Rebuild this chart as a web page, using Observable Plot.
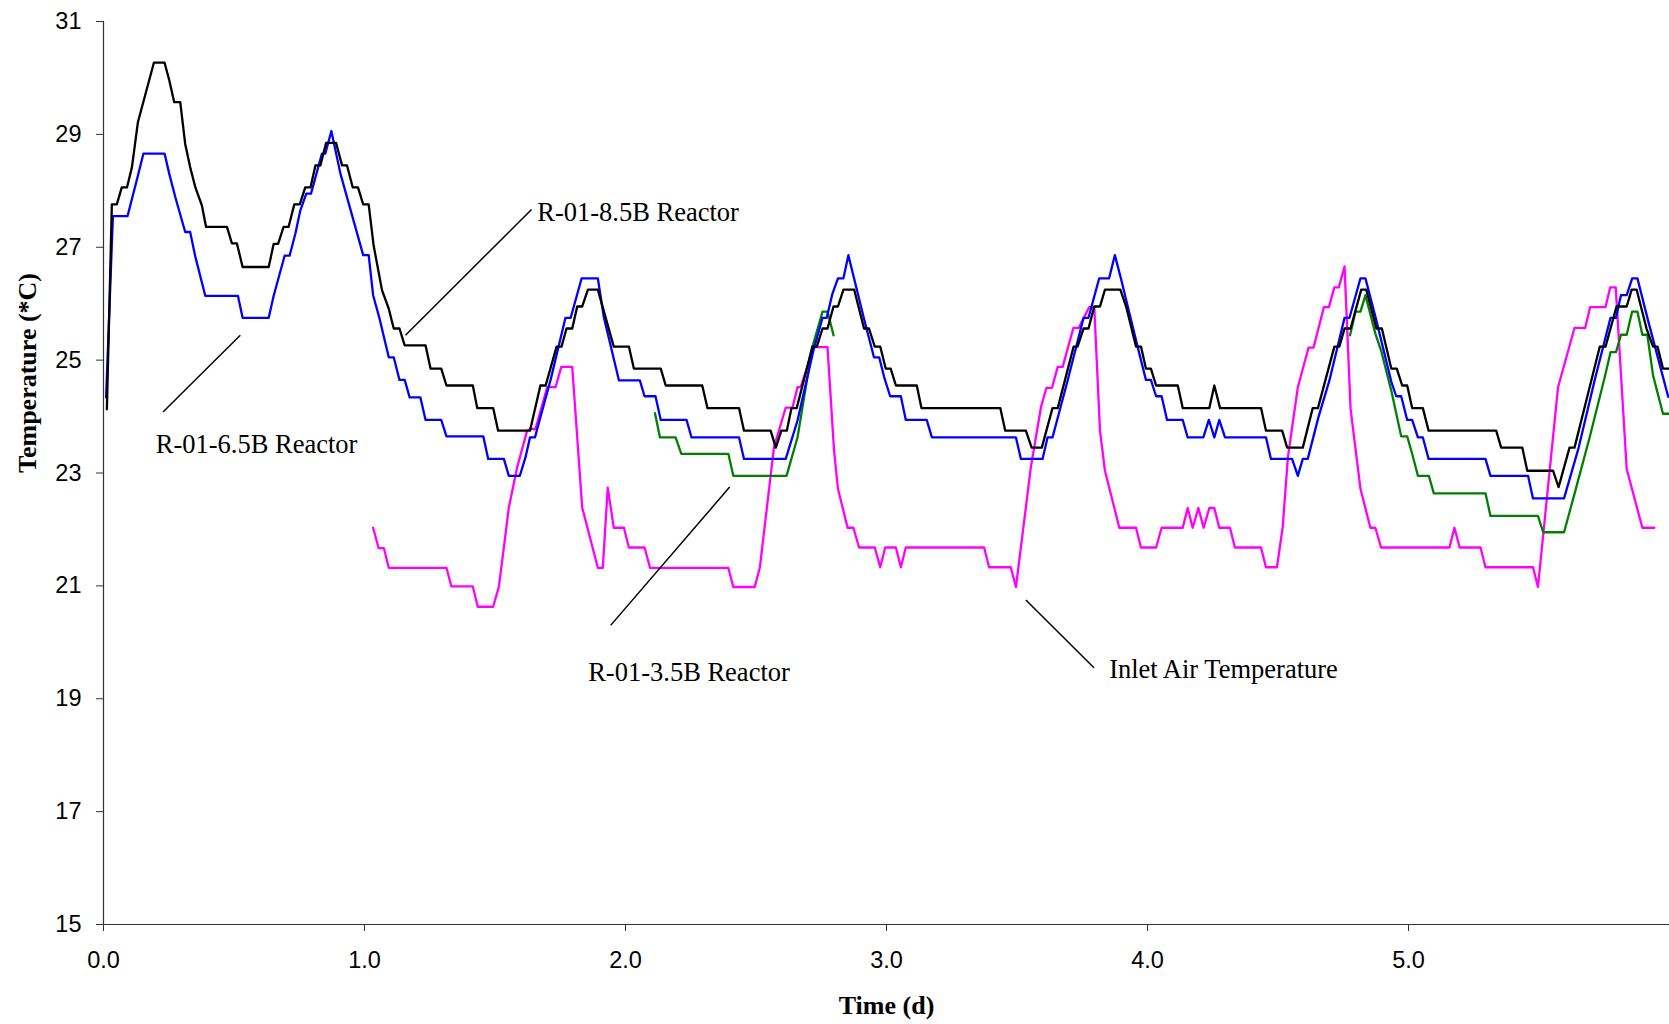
<!DOCTYPE html>
<html>
<head>
<meta charset="utf-8">
<script src="https://cdn.jsdelivr.net/npm/d3@7"></script>
<script src="https://cdn.jsdelivr.net/npm/@observablehq/plot@0.6"></script>
<style>
  html, body { margin: 0; padding: 0; background: #fff; }
  #chart svg { display: block; }
</style>
</head>
<body>
<div id="chart"></div>
<script>
// ---- Data: [time (d), temperature (°C)] ----
const r85 = [ // R-01-8.5B Reactor (black)
  [0.013,24.13],[0.032,27.76],[0.051,27.76],[0.070,28.06],[0.090,28.06],[0.109,28.42],[0.132,29.22],[0.193,30.27],[0.234,30.27],
  [0.252,29.96],[0.271,29.57],[0.294,29.57],[0.313,28.83],[0.332,28.42],[0.352,28.06],[0.377,27.74],[0.393,27.36],[0.473,27.36],
  [0.492,27.07],[0.511,27.07],[0.533,26.65],[0.633,26.65],[0.652,27.06],[0.669,27.06],[0.690,27.36],[0.709,27.36],[0.731,27.76],
  [0.752,27.76],[0.773,28.06],[0.793,28.06],[0.812,28.45],[0.831,28.45],[0.853,28.85],[0.891,28.85],[0.914,28.45],[0.933,28.45],
  [0.955,28.06],[0.975,28.06],[0.995,27.76],[1.016,27.76],[1.035,27.03],[1.067,26.24],[1.093,25.91],[1.112,25.56],[1.134,25.56],
  [1.154,25.26],[1.234,25.26],[1.253,24.85],[1.294,24.85],[1.314,24.55],[1.415,24.55],[1.432,24.15],[1.493,24.15],[1.512,23.75],
  [1.634,23.75],[1.674,24.55],[1.694,24.55],[1.736,25.24],[1.755,25.24],[1.774,25.56],[1.796,25.56],[1.815,25.95],[1.834,25.95],
  [1.856,26.25],[1.894,26.25],[1.955,25.24],[2.013,25.24],[2.032,24.85],[2.135,24.85],[2.154,24.55],[2.294,24.55],[2.314,24.15],
  [2.435,24.15],[2.454,23.75],[2.556,23.75],[2.576,23.45],[2.597,23.75],[2.618,23.75],[2.636,24.15],[2.656,24.15],[2.716,25.24],
  [2.733,25.24],[2.755,25.56],[2.774,25.56],[2.797,25.95],[2.814,25.95],[2.835,26.25],[2.876,26.25],[2.914,25.56],[2.933,25.56],
  [2.955,25.24],[2.976,25.24],[2.997,24.85],[3.016,24.85],[3.036,24.55],[3.116,24.55],[3.134,24.15],[3.436,24.15],[3.455,23.75],
  [3.534,23.75],[3.556,23.45],[3.595,23.45],[3.636,24.15],[3.656,24.15],[3.717,25.24],[3.732,25.24],[3.755,25.56],[3.774,25.56],
  [3.796,25.95],[3.818,25.95],[3.837,26.25],[3.896,26.25],[3.918,25.95],[3.956,25.24],[3.975,25.24],[3.994,24.85],[4.013,24.85],
  [4.033,24.55],[4.116,24.55],[4.135,24.15],[4.237,24.15],[4.256,24.55],[4.278,24.15],[4.435,24.15],[4.454,23.75],[4.516,23.75],
  [4.535,23.45],[4.595,23.45],[4.633,24.15],[4.653,24.15],[4.716,25.24],[4.735,25.24],[4.755,25.56],[4.778,25.56],[4.819,26.25],
  [4.838,26.25],[4.877,25.56],[4.898,25.56],[4.934,24.85],[4.955,24.85],[4.976,24.55],[4.995,24.55],[5.014,24.15],[5.055,24.15],
  [5.077,23.75],[5.336,23.75],[5.355,23.45],[5.436,23.45],[5.455,23.04],[5.554,23.04],[5.575,22.75],[5.617,23.45],[5.636,23.45],
  [5.694,24.52],[5.733,25.24],[5.755,25.24],[5.797,25.95],[5.836,25.95],[5.855,26.25],[5.874,26.25],[5.912,25.56],[5.937,25.24],
  [5.954,25.24],[5.975,24.85],[6.000,24.85]
];
const r65 = [ // R-01-6.5B Reactor (blue)
  [0.010,24.34],[0.036,27.55],[0.092,27.55],[0.132,28.27],[0.153,28.66],[0.234,28.66],[0.252,28.30],[0.275,27.89],[0.313,27.27],
  [0.332,27.27],[0.352,26.83],[0.390,26.14],[0.515,26.14],[0.533,25.75],[0.633,25.75],[0.652,26.14],[0.694,26.85],[0.713,26.85],
  [0.735,27.24],[0.754,27.65],[0.777,27.95],[0.795,27.95],[0.837,28.66],[0.850,28.66],[0.873,29.06],[0.908,28.30],[0.995,26.86],
  [1.016,26.86],[1.033,26.15],[1.058,25.73],[1.093,25.05],[1.112,25.05],[1.134,24.65],[1.154,24.65],[1.173,24.34],[1.214,24.34],
  [1.234,23.94],[1.294,23.94],[1.314,23.65],[1.455,23.65],[1.474,23.25],[1.534,23.25],[1.553,22.95],[1.595,22.95],[1.617,23.28],
  [1.634,23.63],[1.653,23.63],[1.674,23.99],[1.713,24.65],[1.770,25.75],[1.790,25.75],[1.832,26.45],[1.894,26.45],[1.917,25.76],
  [1.975,24.64],[2.055,24.64],[2.073,24.36],[2.115,24.36],[2.135,23.94],[2.234,23.94],[2.253,23.63],[2.435,23.63],[2.454,23.25],
  [2.614,23.25],[2.659,23.93],[2.720,25.17],[2.755,25.75],[2.771,25.75],[2.793,26.18],[2.814,26.45],[2.835,26.45],[2.854,26.86],
  [2.873,26.50],[2.914,25.73],[2.952,25.05],[2.972,25.05],[2.991,24.70],[3.014,24.36],[3.055,24.36],[3.074,23.94],[3.154,23.94],
  [3.174,23.63],[3.496,23.63],[3.515,23.25],[3.598,23.25],[3.617,23.63],[3.636,23.63],[3.694,24.64],[3.755,25.75],[3.774,25.75],
  [3.815,26.45],[3.853,26.45],[3.875,26.86],[3.898,26.45],[3.956,25.35],[3.994,24.65],[4.013,24.65],[4.033,24.36],[4.054,24.36],
  [4.075,23.94],[4.135,23.94],[4.154,23.63],[4.214,23.63],[4.235,23.94],[4.256,23.63],[4.275,23.94],[4.297,23.63],[4.454,23.63],
  [4.473,23.25],[4.554,23.25],[4.576,22.95],[4.595,23.25],[4.614,23.25],[4.655,23.99],[4.697,24.64],[4.755,25.75],[4.774,25.75],
  [4.816,26.45],[4.835,26.45],[4.877,25.70],[4.934,24.62],[4.953,24.36],[4.972,24.36],[4.995,23.94],[5.014,23.94],[5.036,23.63],
  [5.055,23.63],[5.077,23.25],[5.295,23.25],[5.314,22.95],[5.458,22.95],[5.477,22.55],[5.596,22.55],[5.652,23.45],[5.713,24.64],
  [5.774,25.75],[5.795,25.75],[5.814,26.15],[5.836,26.15],[5.857,26.45],[5.877,26.45],[5.918,25.70],[5.995,24.35]
];
const r35a = [ // R-01-3.5B Reactor (green), first segment
  [2.113,24.06],[2.132,23.63],[2.192,23.63],[2.214,23.34],[2.394,23.34],[2.413,22.95],[2.617,22.95],[2.659,23.63],[2.716,25.23],
  [2.755,25.86],[2.774,25.86],[2.797,25.44]
];
const r35b = [ // R-01-3.5B Reactor (green), second segment
  [4.776,25.44],[4.797,25.86],[4.816,25.86],[4.835,26.15],[4.873,25.47],[4.895,25.17],[4.934,24.46],[4.972,23.65],[4.995,23.65],
  [5.014,23.34],[5.036,22.95],[5.078,22.95],[5.097,22.64],[5.295,22.64],[5.314,22.24],[5.496,22.24],[5.516,21.95],[5.596,21.95],
  [5.636,22.63],[5.694,23.63],[5.752,24.70],[5.774,25.14],[5.795,25.14],[5.814,25.45],[5.836,25.45],[5.857,25.86],[5.877,25.86],
  [5.896,25.45],[5.915,25.45],[5.937,24.73],[5.975,24.05],[6.000,24.05]
];
const inlet = [ // Inlet Air Temperature (magenta)
  [1.033,22.03],[1.054,21.67],[1.074,21.67],[1.093,21.32],[1.314,21.32],[1.333,20.99],[1.415,20.99],[1.434,20.63],[1.493,20.63],
  [1.515,20.99],[1.534,21.68],[1.553,22.39],[1.585,23.10],[1.623,23.75],[1.636,23.78],[1.655,23.78],[1.700,24.52],[1.732,24.52],
  [1.754,24.88],[1.796,24.88],[1.834,22.39],[1.894,21.32],[1.913,21.32],[1.932,22.74],[1.955,22.03],[1.994,22.03],[2.013,21.68],
  [2.073,21.68],[2.094,21.32],[2.394,21.32],[2.413,20.98],[2.495,20.98],[2.515,21.33],[2.569,23.46],[2.614,24.16],[2.640,24.16],
  [2.659,24.52],[2.671,24.52],[2.722,25.23],[2.774,25.23],[2.799,23.40],[2.814,22.72],[2.851,22.03],[2.873,22.03],[2.895,21.68],
  [2.955,21.68],[2.976,21.33],[2.995,21.68],[3.036,21.68],[3.055,21.33],[3.074,21.68],[3.374,21.68],[3.393,21.33],[3.476,21.33],
  [3.496,20.98],[3.553,23.10],[3.592,24.17],[3.613,24.51],[3.634,24.51],[3.656,24.88],[3.675,24.88],[3.716,25.57],[3.736,25.57],
  [3.777,25.94],[3.796,25.94],[3.818,23.75],[3.837,23.04],[3.892,22.03],[3.956,22.03],[3.975,21.68],[4.033,21.68],[4.054,22.03],
  [4.135,22.03],[4.154,22.38],[4.173,22.03],[4.195,22.38],[4.215,22.03],[4.237,22.38],[4.256,22.38],[4.275,22.03],[4.316,22.03],
  [4.335,21.68],[4.435,21.68],[4.454,21.33],[4.496,21.33],[4.518,22.04],[4.538,23.28],[4.576,24.52],[4.617,25.22],[4.636,25.22],
  [4.676,25.94],[4.695,25.94],[4.716,26.29],[4.733,26.29],[4.755,26.66],[4.778,24.14],[4.816,22.72],[4.854,22.03],[4.873,22.03],
  [4.895,21.68],[5.157,21.68],[5.176,22.03],[5.196,21.68],[5.276,21.68],[5.295,21.33],[5.477,21.33],[5.496,20.98],[5.573,24.52],
  [5.636,25.57],[5.677,25.57],[5.696,25.94],[5.755,25.94],[5.773,26.29],[5.794,26.29],[5.836,23.07],[5.896,22.03],[5.942,22.03]
];

const xTicks = [0, 1, 2, 3, 4, 5];
const yTicks = [15, 17, 19, 21, 23, 25, 27, 29, 31];
const xTitle = "Time (d)";
const yTitle = "Temperature (*C)";

// Annotation labels (anchored in data units) and their leader lines
const labelNames = ["R-01-8.5B Reactor", "R-01-6.5B Reactor", "R-01-3.5B Reactor", "Inlet Air Temperature"];
const labelAt    = [[1.662, 27.46], [0.200, 23.36], [1.857, 19.32], [3.853, 19.36]];
const leaderFrom = [[1.157, 25.44], [0.228, 24.08], [1.943, 20.30], [3.534, 20.75]];
const leaderTo   = [[1.640, 27.67], [0.524, 25.44], [2.399, 22.75], [3.795, 19.55]];

// ---- Build tables ----
const toRows = (arr, name) => arr.map(([t, v]) => ({t, v, name}));
const labels = labelNames.map((text, i) => ({text, t: labelAt[i][0], v: labelAt[i][1]}));
const leaders = labelNames.map((text, i) => ({x1: leaderFrom[i][0], y1: leaderFrom[i][1], x2: leaderTo[i][0], y2: leaderTo[i][1]}));

const serif = "'Liberation Serif', 'Times New Roman', Times, serif";
const sans = "'Liberation Sans', Arial, sans-serif";
const lineOpts = {x: "t", y: "v", strokeWidth: 2.3, strokeLinejoin: "round"};

const chart = Plot.plot({
  width: 1669,
  height: 1024,
  marginLeft: 103,
  marginRight: 0,
  marginTop: 21,
  marginBottom: 100,
  style: {fontFamily: sans, fontSize: "23.5px", color: "black", background: "white", overflow: "visible"},
  x: {domain: [0, 6]},
  y: {domain: [15, 31]},
  marks: [
    Plot.axisX({ticks: xTicks, tickFormat: d => d.toFixed(1), tickSize: 7, tickPadding: 20, label: null, stroke: "#333", fill: "black", fontSize: 23.5, fontFamily: sans}),
    Plot.axisY({ticks: yTicks, tickSize: 7, tickPadding: 15, label: null, stroke: "#333", fill: "black", fontSize: 23.5, fontFamily: sans}),
    Plot.ruleY([15], {stroke: "#333", strokeWidth: 1.2}),
    Plot.ruleX([0], {stroke: "#333", strokeWidth: 1.2}),
    Plot.line(toRows(inlet, "Inlet"), {...lineOpts, stroke: "#ff00ff"}),
    Plot.line(toRows(r35a, "a"), {...lineOpts, stroke: "#008000"}),
    Plot.line(toRows(r35b, "b"), {...lineOpts, stroke: "#008000"}),
    Plot.line(toRows(r65, "6.5B"), {...lineOpts, stroke: "#0000ff"}),
    Plot.line(toRows(r85, "8.5B"), {...lineOpts, stroke: "#000000"}),
    Plot.link(leaders, {x1: "x1", y1: "y1", x2: "x2", y2: "y2", stroke: "black", strokeWidth: 1.5}),
    Plot.text(labels, {x: "t", y: "v", text: "text", textAnchor: "start", lineAnchor: "bottom", fontFamily: serif, fontSize: 26.5, fill: "black"}),
    Plot.text([xTitle], {frameAnchor: "bottom", lineAnchor: "middle", dy: 81, fontFamily: serif, fontWeight: "bold", fontSize: 26, fill: "black"}),
    Plot.text([yTitle], {frameAnchor: "left", lineAnchor: "middle", rotate: -90, dx: -76, fontFamily: serif, fontWeight: "bold", fontSize: 26, fill: "black"})
  ]
});
document.getElementById("chart").appendChild(chart);
</script>
</body>
</html>
